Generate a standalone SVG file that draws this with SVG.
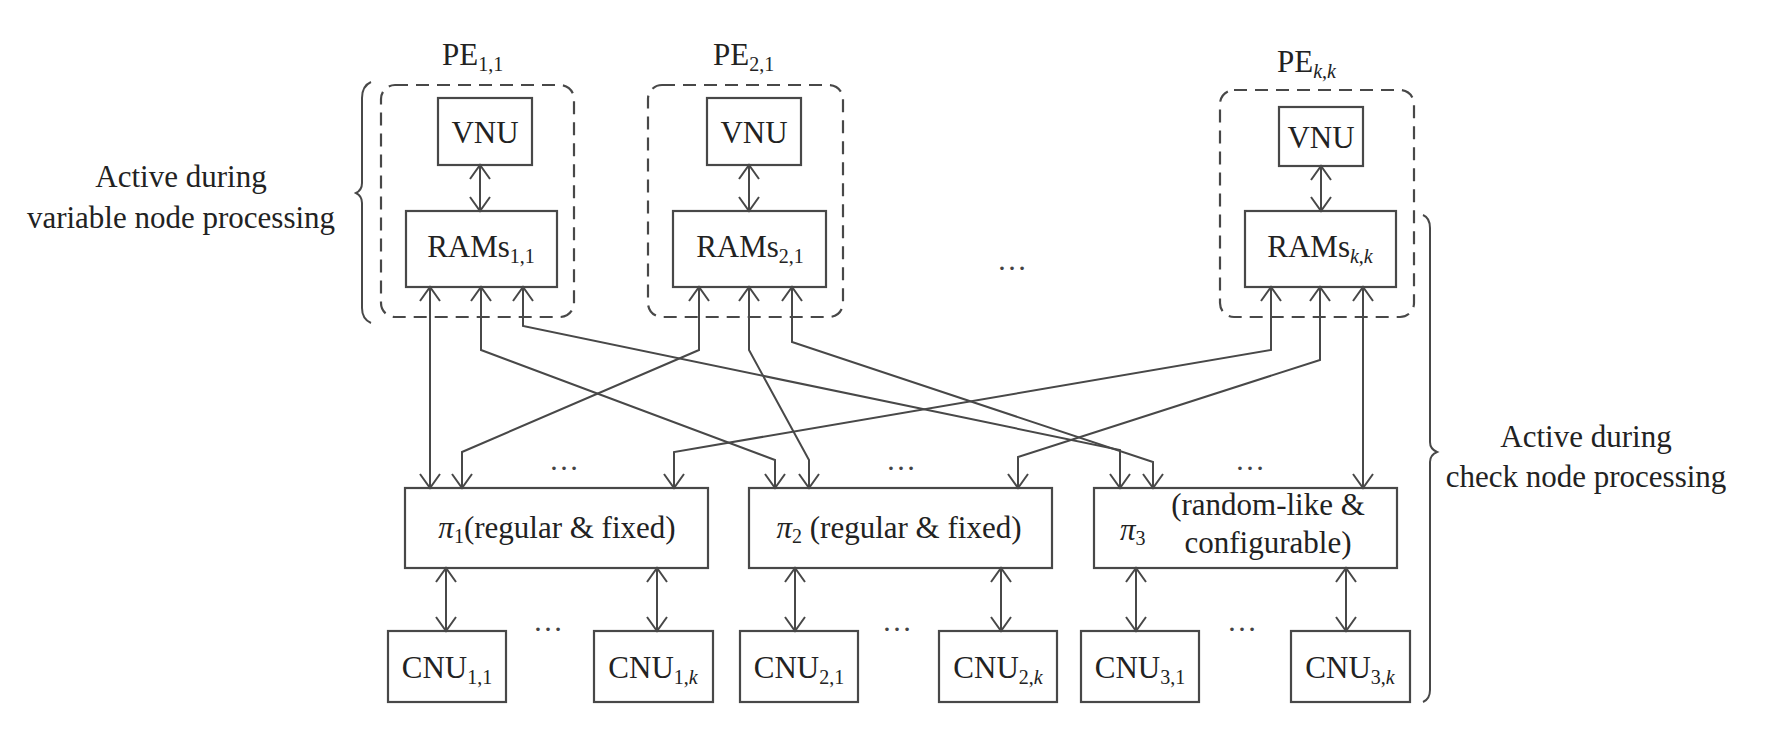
<svg xmlns="http://www.w3.org/2000/svg" width="1781" height="736" viewBox="0 0 1781 736">
<defs>
<style>
.box{fill:none;stroke:#484848;stroke-width:2.2}
.dash{fill:none;stroke:#484848;stroke-width:2.2;stroke-dasharray:13 8}
.ln{fill:none;stroke:#484848;stroke-width:2;marker-start:url(#ah);marker-end:url(#ah)}
.br{fill:none;stroke:#484848;stroke-width:2}
text{font-family:"Liberation Serif",serif;font-size:31px;fill:#222}
.m{text-anchor:middle}
.it{font-style:italic}
.sub{font-size:20px}
.dots{font-size:30px;text-anchor:middle;fill:#444}
</style>
<marker id="ah" markerWidth="18" markerHeight="24" refX="15" refY="11" orient="auto-start-reverse" markerUnits="userSpaceOnUse">
<path d="M1,1 L15,11 L1,21" fill="none" stroke="#484848" stroke-width="2"/>
</marker>
</defs>
<rect width="1781" height="736" fill="#fff"/>

<!-- braces and side labels -->
<g id="brace-left">
<path class="br" d="M371,82 Q362,86 362,98 V183 Q362,190 356,193 Q362,196 362,203 V308 Q362,319 371,323"/>
<text class="m" x="181" y="187">Active during</text>
<text class="m" x="181" y="228">variable node processing</text>
</g>
<g id="brace-right">
<path class="br" d="M1423,215 Q1430,218 1430,228 V442 Q1430,449 1437,452 Q1430,455 1430,462 V690 Q1430,699 1423,702"/>
<text class="m" x="1586" y="447">Active during</text>
<text class="m" x="1586" y="487">check node processing</text>
</g>

<!-- processing elements -->
<g id="pe11">
<rect class="dash" x="381" y="85" width="193" height="232" rx="14"/>
<text x="442" y="65">PE<tspan class="sub" dy="6">1,1</tspan></text>
</g>
<g id="vnu11">
<rect class="box" x="438" y="98" width="94" height="67"/>
<text class="m" x="485" y="143">VNU</text>
</g>
<g id="rams11">
<rect class="box" x="406" y="211" width="151" height="76"/>
<text class="m" x="481" y="257">RAMs<tspan class="sub" dy="6">1,1</tspan></text>
</g>

<g id="pe21">
<rect class="dash" x="648" y="85" width="195" height="232" rx="14"/>
<text x="713" y="65">PE<tspan class="sub" dy="6">2,1</tspan></text>
</g>
<g id="vnu21">
<rect class="box" x="707" y="98" width="94" height="67"/>
<text class="m" x="754" y="143">VNU</text>
</g>
<g id="rams21">
<rect class="box" x="673" y="211" width="153" height="76"/>
<text class="m" x="750" y="257">RAMs<tspan class="sub" dy="6">2,1</tspan></text>
</g>

<g id="pekk">
<rect class="dash" x="1220" y="90" width="194" height="227" rx="14"/>
<text x="1277" y="72">PE<tspan class="sub it" dy="6">k</tspan><tspan class="sub">,</tspan><tspan class="sub it">k</tspan></text>
</g>
<g id="vnukk">
<rect class="box" x="1279" y="107" width="84" height="59"/>
<text class="m" x="1321" y="148">VNU</text>
</g>
<g id="ramskk">
<rect class="box" x="1245" y="211" width="151" height="76"/>
<text class="m" x="1320" y="257">RAMs<tspan class="sub it" dy="6">k</tspan><tspan class="sub">,</tspan><tspan class="sub it">k</tspan></text>
</g>

<text class="dots" x="1012" y="270">…</text>

<!-- permutation networks -->
<g id="pi1">
<rect class="box" x="405" y="488" width="303" height="80"/>
<text class="m" x="557" y="538"><tspan class="it">π</tspan><tspan class="sub" dy="5">1</tspan><tspan dy="-5">(regular &amp; fixed)</tspan></text>
</g>
<g id="pi2">
<rect class="box" x="749" y="488" width="303" height="80"/>
<text class="m" x="899" y="538"><tspan class="it">π</tspan><tspan class="sub" dy="5">2</tspan><tspan dy="-5"> (regular &amp; fixed)</tspan></text>
</g>
<g id="pi3">
<rect class="box" x="1094" y="488" width="303" height="80"/>
<text x="1120" y="540"><tspan class="it">π</tspan><tspan class="sub" dy="5">3</tspan></text>
<text class="m" x="1268" y="515">(random-like &amp;</text>
<text class="m" x="1268" y="553">configurable)</text>
</g>

<text class="dots" x="564" y="470">…</text>
<text class="dots" x="901" y="470">…</text>
<text class="dots" x="1250" y="470">…</text>

<!-- check node units -->
<g id="cnu11"><rect class="box" x="388" y="631" width="118" height="71"/><text class="m" x="447" y="678">CNU<tspan class="sub" dy="6">1,1</tspan></text></g>
<g id="cnu1k"><rect class="box" x="594" y="631" width="119" height="71"/><text class="m" x="653" y="678">CNU<tspan class="sub" dy="6">1,</tspan><tspan class="sub it">k</tspan></text></g>
<g id="cnu21"><rect class="box" x="740" y="631" width="118" height="71"/><text class="m" x="799" y="678">CNU<tspan class="sub" dy="6">2,1</tspan></text></g>
<g id="cnu2k"><rect class="box" x="939" y="631" width="118" height="71"/><text class="m" x="998" y="678">CNU<tspan class="sub" dy="6">2,</tspan><tspan class="sub it">k</tspan></text></g>
<g id="cnu31"><rect class="box" x="1081" y="631" width="118" height="71"/><text class="m" x="1140" y="678">CNU<tspan class="sub" dy="6">3,1</tspan></text></g>
<g id="cnu3k"><rect class="box" x="1291" y="631" width="119" height="71"/><text class="m" x="1350" y="678">CNU<tspan class="sub" dy="6">3,</tspan><tspan class="sub it">k</tspan></text></g>

<text class="dots" x="548" y="631">…</text>
<text class="dots" x="897" y="631">…</text>
<text class="dots" x="1242" y="631">…</text>

<!-- connectors -->
<g id="connectors">
<path class="ln" d="M480,165 V211"/>
<path class="ln" d="M749,165 V211"/>
<path class="ln" d="M1321,166 V211"/>

<path class="ln" d="M430,287 V488"/>
<path class="ln" d="M481,287 V350 L775,460 V488"/>
<path class="ln" d="M523,287 V326 L1120,450 V488"/>
<path class="ln" d="M699,287 V350 L462,452 V488"/>
<path class="ln" d="M749,287 V350 L809,460 V488"/>
<path class="ln" d="M792,287 V342 L1153,462 V488"/>
<path class="ln" d="M1271,287 V350 L674,452 V488"/>
<path class="ln" d="M1320,287 V360 L1018,457 V488"/>
<path class="ln" d="M1363,287 V488"/>

<path class="ln" d="M446,568 V631"/>
<path class="ln" d="M657,568 V631"/>
<path class="ln" d="M795,568 V631"/>
<path class="ln" d="M1001,568 V631"/>
<path class="ln" d="M1136,568 V631"/>
<path class="ln" d="M1346,568 V631"/>
</g>
</svg>
